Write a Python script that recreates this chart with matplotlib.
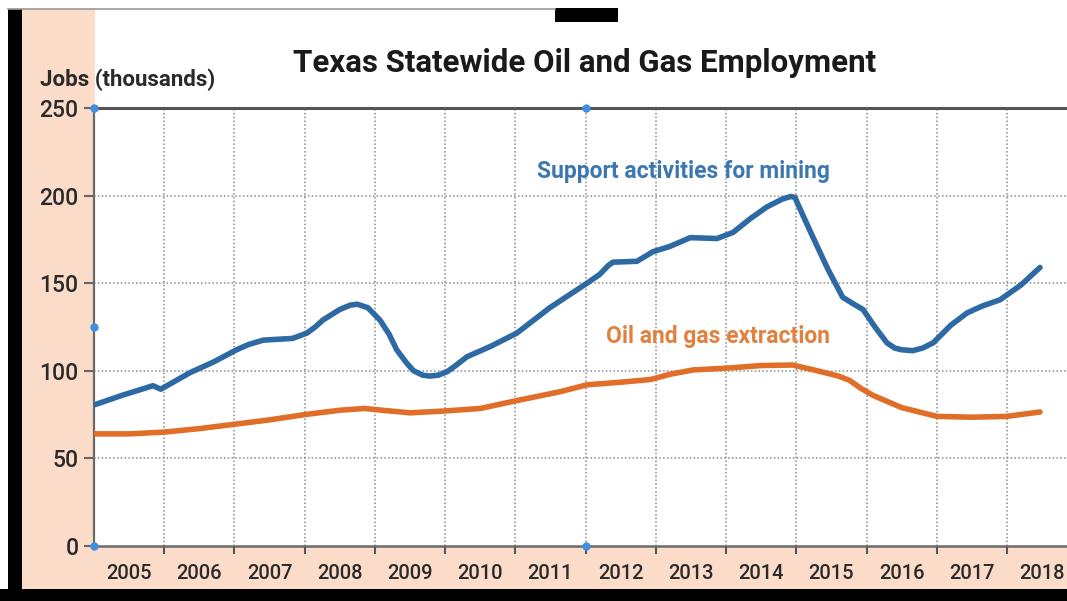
import matplotlib
matplotlib.use("Agg")
import matplotlib.pyplot as plt
from matplotlib.patches import Rectangle
from matplotlib.ticker import FixedLocator, NullFormatter

# ---------------- data ----------------
support_years = [2005.00, 2005.40, 2005.84, 2005.95, 2006.15, 2006.37, 2006.70, 2007.03, 2007.20,
                 2007.41, 2007.83, 2008.03, 2008.15, 2008.26, 2008.50, 2008.65, 2008.75, 2008.90,
                 2009.07, 2009.20, 2009.31, 2009.45, 2009.55, 2009.68, 2009.78, 2009.90, 2010.03,
                 2010.15, 2010.31, 2010.65, 2011.02, 2011.49, 2012.02, 2012.20, 2012.32, 2012.39,
                 2012.73, 2012.96, 2013.20, 2013.49, 2013.87, 2014.10, 2014.35, 2014.58, 2014.80,
                 2014.92, 2014.98, 2015.08, 2015.24, 2015.45, 2015.66, 2015.80, 2015.95, 2016.12,
                 2016.29, 2016.40, 2016.50, 2016.66, 2016.80, 2016.95, 2017.20, 2017.43, 2017.65,
                 2017.90, 2018.20, 2018.47]
support_jobs = [80.5, 86, 91.5, 89.5, 94, 99, 105, 112, 115,
                117.5, 118.5, 121.5, 125, 129, 135, 137.5, 138, 136,
                129, 121, 112, 104.5, 100, 97.5, 97, 97.5, 99.5,
                103, 108, 114, 121.5, 136, 150, 155, 160, 162,
                162.5, 168, 171, 176, 175.5, 179, 187, 193.5, 198,
                199.5, 199, 190, 176, 158, 142, 138.5, 135, 125,
                116, 113, 112, 111.5, 113, 116, 126, 133, 137,
                140.5, 149, 159]

extraction_years = [2005.00, 2005.50, 2006.00, 2006.50, 2007.00, 2007.50, 2008.00, 2008.50,
                    2008.85, 2009.10, 2009.50, 2009.97, 2010.50, 2011.02, 2011.63, 2012.02,
                    2012.50, 2012.92, 2013.20, 2013.53, 2014.01, 2014.50, 2014.95, 2015.30,
                    2015.60, 2015.76, 2015.92, 2016.09, 2016.50, 2017.00, 2017.50, 2018.00,
                    2018.47]
extraction_jobs = [64, 64, 65, 67, 69.5, 72, 75, 77.5,
                   78.5, 77.5, 76, 77, 78.5, 83, 88, 92,
                   93.5, 95, 98, 100.5, 101.5, 103, 103.3, 100,
                   97, 94.5, 90, 86, 79, 74, 73.5, 74,
                   76.5]

year_labels = [str(y) for y in range(2005, 2019)]
y_ticks = [0, 50, 100, 150, 200, 250]

handle_x = [2005, 2012, 2005, 2005, 2012]
handle_y = [250, 250, 125, 0, 0]

title = "Texas Statewide Oil and Gas Employment"
y_title = "Jobs (thousands)"
support_label = "Support activities for mining"
extraction_label = "Oil and gas extraction"

# ---------------- style ----------------
BLUE = "#2d6aa3"
ORANGE = "#e06e28"
BLUE_TXT = "#3b78b2"
ORANGE_TXT = "#e2803f"
PEACH = "#fbdcc9"
TXT = "#2a2a2a"
FONT = ["Roboto", "DejaVu Sans"]
plt.rcParams["font.family"] = FONT

W, H = 1067, 601
fig = plt.figure(figsize=(W / 100, H / 100), dpi=100, facecolor="white")

def fx(px):
    return px / W

def fy(py):
    return 1 - py / H

# background decorations (peach bands, black frame)
fig.add_artist(Rectangle((fx(22), fy(590)), fx(95) - fx(22), fy(9) - fy(590),
                         transform=fig.transFigure, facecolor=PEACH, edgecolor="none", zorder=0))
fig.add_artist(Rectangle((fx(22), fy(590)), 1 - fx(22), fy(546) - fy(590),
                         transform=fig.transFigure, facecolor=PEACH, edgecolor="none", zorder=0))
fig.add_artist(Rectangle((fx(8), 0), fx(22) - fx(8), fy(9),
                         transform=fig.transFigure, facecolor="black", edgecolor="none", zorder=0))
fig.add_artist(Rectangle((0, 0), 1, fy(589),
                         transform=fig.transFigure, facecolor="black", edgecolor="none", zorder=0))
fig.add_artist(Rectangle((fx(555), fy(22)), fx(618) - fx(555), fy(8) - fy(22),
                         transform=fig.transFigure, facecolor="black", edgecolor="none", zorder=0))
fig.add_artist(plt.Line2D([fx(8), fx(555)], [fy(8.5), fy(8.5)], transform=fig.transFigure,
                          color="#9a9a9a", lw=1.2, zorder=0))

ax = fig.add_axes([fx(94), fy(546), fx(1067) - fx(94), fy(108) - fy(546)])
ax.set_facecolor("white")
ax.set_xlim(2005, 2005 + (1067 - 94) / 70.23)
ax.set_ylim(0, 250)

ax.plot(support_years, support_jobs, color=BLUE, lw=4.0, solid_capstyle="round",
        solid_joinstyle="round", zorder=4)
ax.plot(extraction_years, extraction_jobs, color=ORANGE, lw=4.0, solid_capstyle="round",
        solid_joinstyle="round", zorder=4)

ax.text(2013.39, 213.5, support_label, color=BLUE_TXT, fontsize=16.5, fontweight="bold",
        ha="center", va="center", zorder=5)
ax.text(2013.89, 119.5, extraction_label, color=ORANGE_TXT, fontsize=16.5, fontweight="bold",
        ha="center", va="center", zorder=5)

# grid
ax.xaxis.set_major_locator(FixedLocator(list(range(2006, 2019))))
ax.xaxis.set_major_formatter(NullFormatter())
ax.xaxis.set_minor_locator(FixedLocator([y + 0.5 for y in range(2005, 2019)]))
ax.set_xticklabels(year_labels, minor=True)
ax.tick_params(axis="x", which="major", length=6, width=1.5, color="#555", direction="out")
ax.tick_params(axis="x", which="minor", length=0, pad=13, labelsize=14.5, labelcolor=TXT)
ax.set_yticks(y_ticks)
ax.set_yticklabels([str(v) for v in y_ticks])
ax.tick_params(axis="y", length=7, width=1.5, color="#666", pad=4, labelsize=16.5, labelcolor=TXT)
for lab in ax.get_xticklabels(minor=True) + ax.get_yticklabels():
    lab.set_fontweight("medium")

for yv in y_ticks[1:-1]:
    ax.axhline(yv, color="#8a8a8a", lw=1.1, ls=(0, (1, 1.5)), zorder=1)
for xv in range(2006, 2019):
    ax.axvline(xv, color="#8a8a8a", lw=1.1, ls=(0, (1, 1.5)), zorder=1)

ax.spines["right"].set_visible(False)
ax.spines["left"].set_color("#6a6a6a")
ax.spines["left"].set_linewidth(1.6)
ax.spines["top"].set_color("#555555")
ax.spines["top"].set_linewidth(2.2)
ax.spines["bottom"].set_color("#6a6a6a")
ax.spines["bottom"].set_linewidth(1.8)

ax.scatter(handle_x, handle_y, s=25, color="#3d8fe0", zorder=6, clip_on=False)

fig.text(fx(585), fy(63), title, fontsize=22.5, fontweight="bold", color="#1a1a1a",
         ha="center", va="center")
fig.text(fx(40), fy(80), y_title, fontsize=16, fontweight="bold", color=TXT,
         ha="left", va="center")

fig.savefig("out.png", dpi=100, facecolor="white")
